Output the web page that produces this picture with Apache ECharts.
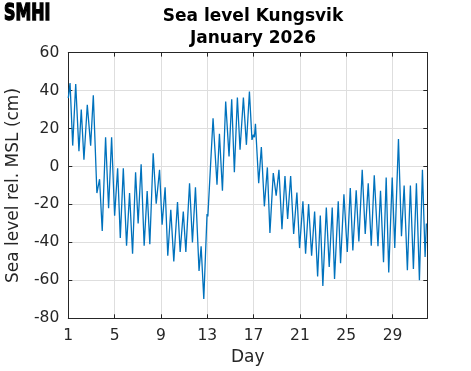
<!DOCTYPE html>
<html><head><meta charset="utf-8">
<script src="https://cdn.jsdelivr.net/npm/echarts@6/dist/echarts.min.js"></script>
<style>html,body{margin:0;padding:0;background:#fff}#c{width:471px;height:371px}</style>
</head><body><div id="c"></div>
<script>
// Day of month (fractional) and sea level (cm rel. MSL), read at highs/lows
const days = [1.00,1.15,1.38,1.64,1.92,2.12,2.35,2.64,2.93,3.16,3.47,3.70,3.93,4.22,4.48,4.74,5.00,5.26,5.49,5.75,
6.03,6.29,6.55,6.81,7.03,7.29,7.55,7.81,8.04,8.33,8.59,8.88,9.10,9.36,9.59,9.85,10.11,10.43,10.66,10.93,
11.15,11.47,11.72,11.98,12.29,12.47,12.70,12.98,13.05,13.50,13.84,14.05,14.31,14.59,14.88,15.11,15.34,15.60,15.83,16.12,
16.38,16.64,16.86,16.98,17.07,17.16,17.44,17.67,17.93,18.19,18.41,18.70,18.95,19.19,19.45,19.71,19.94,20.20,20.46,20.74,20.97,21.26,
21.49,21.75,22.01,22.27,22.53,22.76,22.98,23.28,23.53,23.79,23.99,24.31,24.51,24.80,25.09,25.35,25.57,25.86,26.09,26.38,
26.64,26.90,27.16,27.42,27.74,27.96,28.22,28.45,28.67,28.97,29.19,29.51,29.77,30.00,30.28,30.54,30.80,31.06,31.32,31.58,31.81,31.92];
const levels = [36,44,11,43.5,8,30,3.5,32.5,11,37.5,-14,-6.7,-34,15.4,-22,15.4,-26,-1,-37.7,-1,
-41.8,-14,-46,-3,-30,1.2,-41.8,-13,-41,7,-19.6,-1.8,-30.7,-11,-47,-22.8,-50,-18.8,-45,-23.7,
-45,-8.8,-40,-11,-55,-42,-69.8,-25,-26.3,25.4,-9.6,17.2,-12.8,34.2,5.3,35.4,-3,36.3,8.8,36.3,
11.4,39.5,14,16.7,15.4,22.5,-8.8,10.2,-21,-0.5,-35,-3.5,-15.4,-1.8,-33,-5,-27.7,-5,-35.6,-13.7,-43,-18.4,
-46,-19.8,-47,-23.7,-58,-25.8,-63,-21.6,-53,-21.6,-59.3,-18.4,-51,-14.6,-45,-11.4,-44.2,-12.6,-39.5,-1.75,
-35.6,-8.8,-41.8,-4.7,-42,-12.8,-50.5,-5.8,-55.8,-5.8,-43,14.4,-36.8,-10,-54.7,-10,-54,-8.8,-60,-1.8,-47.7,-30];
const xRange = [1, 32];
const xStep = 4;
const yRange = [-80, 60];
const yStep = 20;
const titleLines = ['Sea level Kungsvik', 'January 2026'];

const AX = '#262626';
const FONT = 'DejaVu Sans';
const chart = echarts.init(document.getElementById('c'), null, {renderer: 'canvas'});
const base = {
  axisLine: {show: true, onZero: false, lineStyle: {color: AX, width: 1}},
  axisTick: {show: true, inside: true, length: 4, lineStyle: {color: AX}},
};
chart.setOption({
  animation: false,
  backgroundColor: '#fff',
  title: {
    text: titleLines.join('\n'), left: 248, top: 0.5, textAlign: 'center',
    textStyle: {fontFamily: FONT, fontWeight: 'bold', fontSize: 17, lineHeight: 22, color: '#000'}
  },
  graphic: [{
    type: 'text', x: 4, y: 2, scaleX: 0.72, scaleY: 1.05,
    style: {text: 'SMHI', font: 'bold 22px "DejaVu Sans"', fill: '#000', stroke: '#000', lineWidth: 1.4, textVerticalAlign: 'top'}
  }],
  grid: {left: 68.3, right: 43.7, top: 52.6, bottom: 52.7, containLabel: false, outerBoundsMode: 'none'},
  xAxis: [
    Object.assign({}, base, {
      type: 'value', min: xRange[0], max: xRange[1], interval: xStep, position: 'bottom',
      name: 'Day', nameLocation: 'middle', nameGap: 31,
      nameTextStyle: {fontFamily: FONT, fontSize: 17, color: AX},
      axisLabel: {fontFamily: FONT, fontSize: 15.5, color: AX, margin: 10, showMaxLabel: false},
      splitLine: {show: true, lineStyle: {color: '#dedede', width: 1}}
    }),
    Object.assign({}, base, {
      type: 'value', min: xRange[0], max: xRange[1], interval: xStep, position: 'top',
      axisLabel: {show: false}, splitLine: {show: false}
    })
  ],
  yAxis: [
    Object.assign({}, base, {
      type: 'value', min: yRange[0], max: yRange[1], interval: yStep, position: 'left',
      name: 'Sea level rel. MSL (cm)', nameLocation: 'middle', nameGap: 46,
      nameTextStyle: {fontFamily: FONT, fontSize: 17, color: AX},
      axisLabel: {fontFamily: FONT, fontSize: 15.5, color: AX, margin: 9},
      splitLine: {show: true, lineStyle: {color: '#dedede', width: 1}}
    }),
    Object.assign({}, base, {
      type: 'value', min: yRange[0], max: yRange[1], interval: yStep, position: 'right',
      axisLabel: {show: false}, splitLine: {show: false}
    })
  ],
  series: [{
    type: 'line', xAxisIndex: 0, yAxisIndex: 0,
    data: days.map((d, i) => [d, levels[i]]),
    showSymbol: false, symbol: 'none',
    lineStyle: {color: '#0072BD', width: 1.3},
    z: 5
  }]
});
</script>
</body></html>
